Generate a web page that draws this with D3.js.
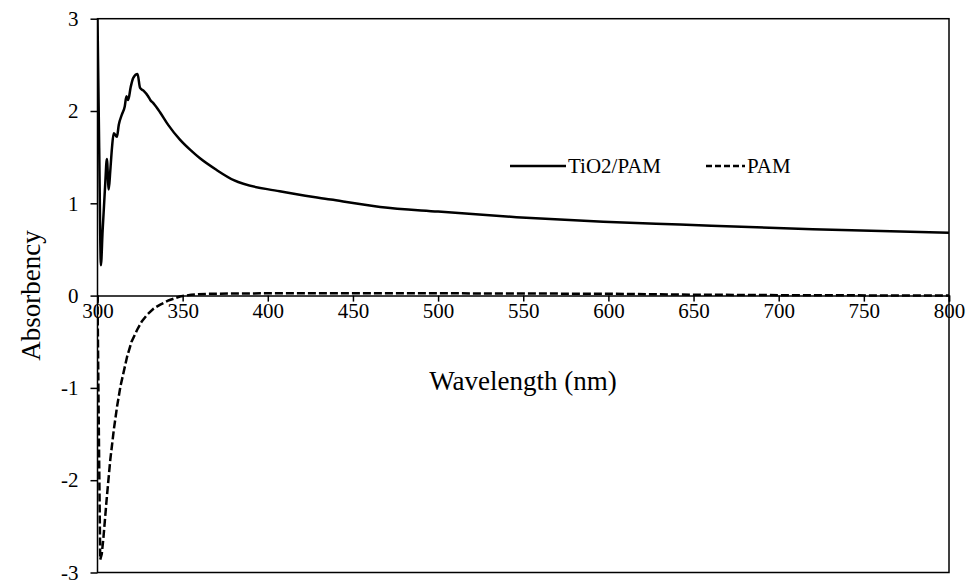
<!DOCTYPE html>
<html>
<head>
<meta charset="utf-8">
<title>Absorbency</title>
<script src="https://cdn.jsdelivr.net/npm/d3@7"></script>
<style>
  body { margin: 0; background: #fff; }
  svg text { font-family: "Liberation Serif", "Times New Roman", serif; fill: #000; }
  .axis path, .axis line { stroke: #000; stroke-width: 1.5px; }
</style>
</head>
<body>
<svg id="chart" width="969" height="586"></svg>
<script>
// TiO2/PAM curve
var tioWave = [300, 301, 302, 303, 304.5, 305.5, 306.6, 307.5, 308.5, 309.5, 311.4, 312.5, 314.3, 316, 317, 318, 319.5, 321, 323.5, 325, 327, 329.7, 331, 333, 336.6, 341.5, 348.4, 355, 360, 370, 380, 407, 437, 466, 500, 546, 597, 642, 720, 800];
var tioAbs  = [3.0, 1.6, 0.33, 0.7, 1.2, 1.48, 1.15, 1.35, 1.6, 1.76, 1.72, 1.85, 1.96, 2.05, 2.16, 2.12, 2.26, 2.36, 2.40, 2.25, 2.22, 2.16, 2.12, 2.08, 1.99, 1.85, 1.69, 1.57, 1.49, 1.36, 1.25, 1.13, 1.04, 0.96, 0.91, 0.85, 0.80, 0.77, 0.72, 0.68];

// PAM curve
var pamWave = [300, 300.8, 301.6, 302.5, 303.5, 305.5, 307.5, 309.6, 311.5, 313.5, 317.4, 320, 323.3, 326, 329, 333, 336.6, 342, 348.4, 355, 365, 400, 500, 600, 650, 700, 800];
var pamAbs  = [0, -1.5, -2.86, -2.8, -2.62, -2.18, -1.78, -1.45, -1.2, -0.98, -0.66, -0.5, -0.37, -0.28, -0.21, -0.14, -0.1, -0.05, -0.01, 0.01, 0.02, 0.025, 0.025, 0.02, 0.01, 0.005, 0];

var xTicks = [300, 350, 400, 450, 500, 550, 600, 650, 700, 750, 800];
var yTicks = [-3, -2, -1, 0, 1, 2, 3];
var seriesNames = ["TiO2/PAM", "PAM"];

var svg = d3.select("#chart");
var plotL = 97.5, plotR = 949, plotT = 18.7, plotB = 572.5;

var x = d3.scaleLinear().domain([300, 800]).range([plotL, plotR]);
var y = d3.scaleLinear().domain([-3, 3]).range([plotB, plotT]);

// plain hyphen for negatives, like the original
function plain(d) { return String(d); }

// frame
svg.append("rect")
  .attr("x", plotL).attr("y", plotT)
  .attr("width", plotR - plotL).attr("height", plotB - plotT)
  .attr("fill", "none").attr("stroke", "#000").attr("stroke-width", 1.5);

// y axis on the left
var yAxis = svg.append("g")
  .attr("class", "axis")
  .attr("transform", "translate(" + plotL + ",0)")
  .call(d3.axisLeft(y).tickValues(yTicks).tickSize(7).tickPadding(12).tickFormat(plain));
yAxis.select(".domain").remove();
yAxis.selectAll("text").style("font-size", "21px");

// x axis through zero
var xAxis = svg.append("g")
  .attr("class", "axis")
  .attr("transform", "translate(0," + y(0) + ")")
  .call(d3.axisBottom(x).tickValues(xTicks).tickSize(6).tickPadding(1).tickFormat(plain));
xAxis.selectAll("text").style("font-size", "21px");

var line = d3.line()
  .x(function(d) { return x(d[0]); })
  .y(function(d) { return y(d[1]); });

svg.append("clipPath").attr("id", "plot-clip")
  .append("rect").attr("x", plotL).attr("y", plotT)
  .attr("width", plotR - plotL).attr("height", plotB - plotT);

var g = svg.append("g").attr("clip-path", "url(#plot-clip)");

g.append("path")
  .datum(d3.zip(pamWave, pamAbs))
  .attr("d", line)
  .attr("fill", "none")
  .attr("stroke", "#000")
  .attr("stroke-width", 2.5)
  .attr("stroke-dasharray", "8,3");

g.append("path")
  .datum(d3.zip(tioWave, tioAbs))
  .attr("d", d3.line().curve(d3.curveMonotoneX)
    .x(function(d) { return x(d[0]); })
    .y(function(d) { return y(d[1]); }))
  .attr("fill", "none")
  .attr("stroke", "#000")
  .attr("stroke-width", 2.5)
  .attr("stroke-linejoin", "round");

// legend
var legend = svg.append("g");
legend.append("line")
  .attr("x1", 510).attr("x2", 566).attr("y1", 166).attr("y2", 166)
  .attr("stroke", "#000").attr("stroke-width", 2.5);
legend.append("text")
  .attr("x", 568).attr("y", 173)
  .style("font-size", "21px")
  .text(seriesNames[0]);
legend.append("line")
  .attr("x1", 706).attr("x2", 745).attr("y1", 166).attr("y2", 166)
  .attr("stroke", "#000").attr("stroke-width", 2.5)
  .attr("stroke-dasharray", "6,3");
legend.append("text")
  .attr("x", 747).attr("y", 173)
  .style("font-size", "21px")
  .text(seriesNames[1]);

// axis titles
svg.append("text")
  .attr("x", 523).attr("y", 390)
  .attr("text-anchor", "middle")
  .style("font-size", "27px")
  .text("Wavelength (nm)");

svg.append("text")
  .attr("transform", "translate(40," + (plotT + plotB) / 2 + ") rotate(-90)")
  .attr("text-anchor", "middle")
  .style("font-size", "27px")
  .text("Absorbency");
</script>
</body>
</html>
